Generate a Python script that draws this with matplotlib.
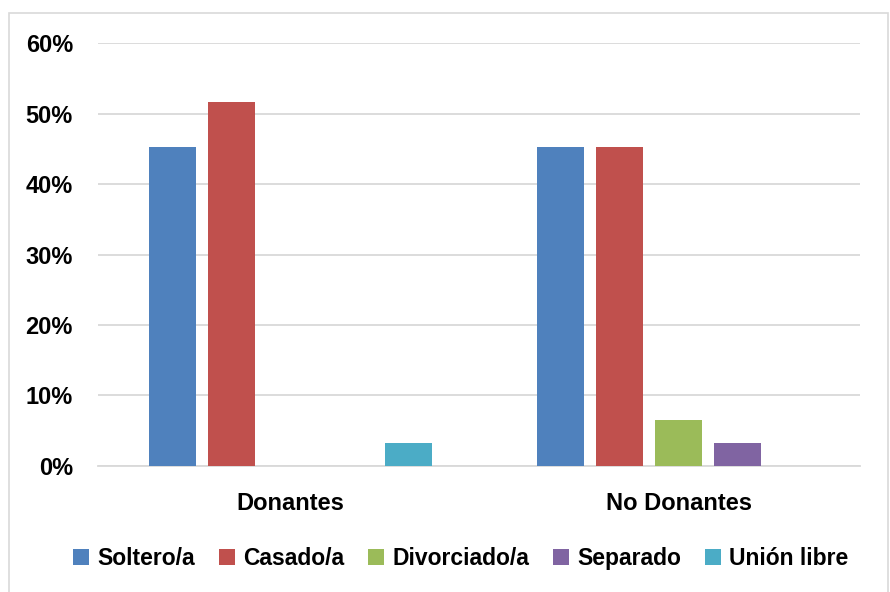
import numpy as np
import matplotlib.pyplot as plt
from matplotlib.patches import Rectangle

grupos = ['Donantes', 'No Donantes']
series = ['Soltero/a', 'Casado/a', 'Divorciado/a', 'Separado', 'Unión libre']
soltero = [45.2, 45.2]
casado = [51.6, 45.2]
divorciado = [0.0, 6.5]
separado = [0.0, 3.2]
union_libre = [3.2, 0.0]
colores = ['#4F81BD', '#C0504D', '#9BBB59', '#8064A2', '#4BACC6']

plt.rcParams['font.family'] = ['Liberation Sans', 'DejaVu Sans']
plt.rcParams['font.weight'] = 'bold'

fig = plt.figure(figsize=(8.9, 5.92), dpi=100)
ax = fig.add_axes([0.110, 0.213, 0.856, 0.714])

# marco gris del grafico
fig.patches.append(Rectangle((0.010, -0.01), 0.988, 0.988, transform=fig.transFigure,
                             fill=False, edgecolor='#D9D9D9', linewidth=1.2))

x = np.arange(len(grupos))
paso = 0.152
ancho = 0.121
datos = [soltero, casado, divorciado, separado, union_libre]
for i, (nombre, vals) in enumerate(zip(series, datos)):
    ax.bar(x + (i - 2) * paso, vals, ancho, color=colores[i], label=nombre, zorder=3)

ax.set_xlim(-0.497, 1.466)
ax.set_ylim(0, 60)
ax.set_yticks(range(0, 61, 10))
ax.set_yticklabels([f'{v}%' for v in range(0, 61, 10)], fontsize=17, fontweight='bold')
ax.set_xticks(x)
ax.set_xticklabels(grupos, fontsize=17, fontweight='bold')
ax.tick_params(axis='both', length=0)
ax.tick_params(axis='y', pad=18)
ax.tick_params(axis='x', pad=19)
ax.grid(axis='y', color='#D9D9D9', linewidth=1.3, zorder=0)
for s in ['top', 'right', 'left']:
    ax.spines[s].set_visible(False)
ax.spines['bottom'].set_color('#D9D9D9')
ax.spines['bottom'].set_linewidth(1.3)

fig.legend(loc='center', bbox_to_anchor=(0.518, 0.057), ncol=5, frameon=False,
           prop={'size': 16.5, 'weight': 'bold'}, handlelength=0.7, handleheight=0.7,
           handletextpad=0.35, columnspacing=1.05)

fig.savefig('out.png', dpi=100)
